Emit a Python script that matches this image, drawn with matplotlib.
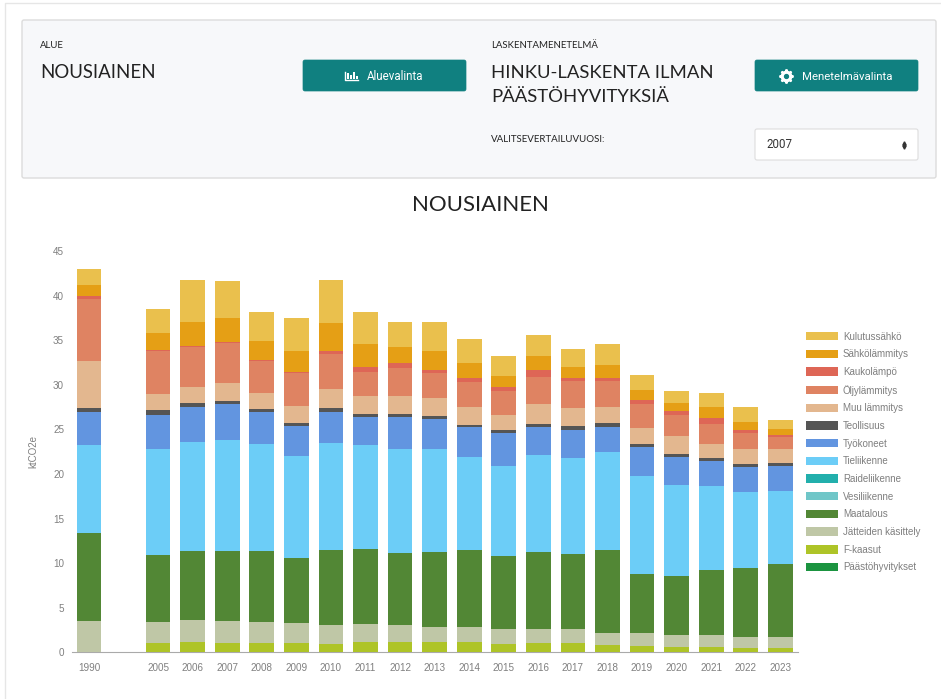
#! /usr/bin/python3

import matplotlib
matplotlib.use("Agg")
import matplotlib.pyplot as plt
from matplotlib.patches import FancyBboxPatch, Rectangle
import numpy as np

vuodet = ["1990", "", "2005", "2006", "2007", "2008", "2009", "2010", "2011", "2012", "2013",
          "2014", "2015", "2016", "2017", "2018", "2019", "2020", "2021", "2022", "2023"]

# arvot luettu kuvasta, toinen sarake on tyhja vali 1990 ja 2005 valissa
kulutussahko = [1.8, 0, 2.75, 4.75, 4.15, 3.3, 3.7, 4.85, 3.6, 2.75, 3.2, 2.7, 2.2, 2.4, 1.95, 2.35, 1.75, 1.35, 1.55, 1.65, 1.0]
sahkolammitys = [1.2, 0, 1.85, 2.65, 2.7, 2.1, 2.3, 3.15, 2.5, 1.85, 2.15, 1.6, 1.3, 1.6, 1.3, 1.45, 1.15, 0.85, 1.2, 0.9, 0.75]
kaukolampo = [0.4, 0, 0.15, 0.1, 0.15, 0.15, 0.15, 0.3, 0.55, 0.5, 0.35, 0.45, 0.45, 0.75, 0.3, 0.3, 0.45, 0.5, 0.7, 0.3, 0.25]
oljylammitys = [6.9, 0, 4.8, 4.5, 4.5, 3.55, 3.65, 3.95, 2.8, 3.1, 2.8, 2.8, 2.65, 3.05, 3.1, 2.95, 2.6, 2.35, 2.25, 1.85, 1.35]
muu_lammitys = [5.3, 0, 1.85, 1.75, 2.05, 1.85, 1.9, 2.15, 1.95, 2.05, 2.0, 2.0, 1.7, 2.25, 1.95, 1.75, 1.85, 2.0, 1.6, 1.7, 1.55]
teollisuus = [0.5, 0, 0.55, 0.45, 0.35, 0.3, 0.35, 0.45, 0.3, 0.3, 0.3, 0.3, 0.4, 0.35, 0.45, 0.45, 0.3, 0.35, 0.3, 0.35, 0.35]
tyokoneet = [3.6, 0, 3.8, 4.0, 4.0, 3.6, 3.35, 3.45, 3.2, 3.65, 3.35, 3.4, 3.6, 3.15, 3.15, 2.8, 3.3, 3.15, 2.8, 2.75, 2.75]
tieliikenne = [9.9, 0, 11.9, 12.15, 12.4, 11.95, 11.45, 12.0, 11.7, 11.65, 11.55, 10.4, 10.15, 10.9, 10.8, 11.05, 10.95, 10.15, 9.45, 8.5, 8.15]
raideliikenne = [0] * 21
vesiliikenne = [0] * 21
maatalous = [9.9, 0, 7.5, 7.75, 7.9, 8.0, 7.35, 8.35, 8.4, 8.05, 8.45, 8.6, 8.15, 8.55, 8.45, 9.25, 6.7, 6.65, 7.25, 7.75, 8.2]
jatteet = [3.5, 0, 2.4, 2.45, 2.45, 2.35, 2.2, 2.15, 2.05, 2.0, 1.75, 1.65, 1.7, 1.6, 1.55, 1.4, 1.4, 1.35, 1.35, 1.25, 1.3]
f_kaasut = [0, 0, 1.0, 1.2, 1.05, 1.05, 1.05, 0.95, 1.1, 1.1, 1.1, 1.2, 0.95, 1.05, 1.0, 0.8, 0.7, 0.6, 0.6, 0.5, 0.45]
hyvitykset = [0] * 21

sarjat = [
    ("Kulutussähkö", kulutussahko, "#EAC04D"),
    ("Sähkölämmitys", sahkolammitys, "#E59F15"),
    ("Kaukolämpö", kaukolampo, "#DE6656"),
    ("Öljylämmitys", oljylammitys, "#DF8362"),
    ("Muu lämmitys", muu_lammitys, "#E3B78F"),
    ("Teollisuus", teollisuus, "#555555"),
    ("Työkoneet", tyokoneet, "#6295E0"),
    ("Tieliikenne", tieliikenne, "#6CCDF7"),
    ("Raideliikenne", raideliikenne, "#22AFAC"),
    ("Vesiliikenne", vesiliikenne, "#6FC6C8"),
    ("Maatalous", maatalous, "#528735"),
    ("Jätteiden käsittely", jatteet, "#BFC7A6"),
    ("F-kaasut", f_kaasut, "#AEC427"),
    ("Päästöhyvitykset", hyvitykset, "#1B9440"),
]

W, H = 941, 699
HARMAA = "#7f7f7f"
TEKSTI = "#222222"
NAPPI = "#108080"
OTSIKKO = "Lato"

fig = plt.figure(figsize=(W / 100, H / 100), dpi=100, facecolor="white")

# sivun yläosa pikselikoordinaateissa
bg = fig.add_axes([0, 0, 1, 1])
bg.set_xlim(0, W)
bg.set_ylim(H, 0)
bg.axis("off")

bg.plot([5, 5, W], [H, 3, 3], color="#e6e6e6", lw=1)
bg.add_patch(FancyBboxPatch((22, 20), 914, 158, boxstyle="round,pad=0,rounding_size=2",
                            fc="#F7F8FA", ec="#dcdcdc", lw=1))
for x in [303, 755]:
    bg.add_patch(FancyBboxPatch((x, 60), 163, 31, boxstyle="round,pad=0,rounding_size=2",
                                fc=NAPPI, ec=NAPPI, lw=0.5))
bg.add_patch(FancyBboxPatch((755, 129), 163, 31, boxstyle="round,pad=0,rounding_size=2",
                            fc="white", ec="#dddddd", lw=0.8))

bg.text(40, 46, "ALUE", fontsize=6.9, family=OTSIKKO, color=TEKSTI, va="center")
bg.text(40, 72.5, "NOUSIAINEN", fontsize=13.4, family=OTSIKKO, color=TEKSTI, va="center")
bg.text(491, 46, "LASKENTAMENETELMÄ", fontsize=6.9, family=OTSIKKO, color=TEKSTI, va="center")
bg.text(491, 72.5, "HINKU-LASKENTA ILMAN", fontsize=13.3, family=OTSIKKO, color=TEKSTI, va="center")
bg.text(491, 96.5, "PÄÄSTÖHYVITYKSIÄ", fontsize=13.3, family=OTSIKKO, color=TEKSTI, va="center")
bg.text(491, 140, "VALITSEVERTAILUVUOSI:", fontsize=7.0, family=OTSIKKO, color=TEKSTI, va="center")
bg.text(480, 205, "NOUSIAINEN", fontsize=16, family=OTSIKKO, color=TEKSTI, va="center", ha="center")

bg.text(367, 76.5, "Aluevalinta", fontsize=8.3, family="Roboto", color="white", va="center")
bg.text(802, 76.5, "Menetelmävalinta", fontsize=8.2, family="Roboto", color="white", va="center")
bg.text(766, 145, "2007", fontsize=8.3, family="Roboto", color="#333333", va="center")

# hammasratas napissa
bg.plot([786], [76], marker=(8, 2, 0), ms=10, mew=1.6, color="white", ls="none")
bg.plot([786], [76], marker="o", ms=7.5, color="white", ls="none")
bg.plot([786], [76], marker="o", ms=2.8, color=NAPPI, ls="none")

# pieni pylväskuvake napissa
for x, y0, h in [(347, 79, 6), (350, 79, 4), (353, 79, 7), (356, 79, 3)]:
    bg.add_patch(Rectangle((x, y0 - h), 2, h, fc="white", ec="none"))
bg.plot([345, 345, 358.5], [72, 80, 80], color="white", lw=1)
bg.plot([904], [143], marker="^", ms=2.4, color="#333333")
bg.plot([904], [147], marker="v", ms=2.4, color="#333333")

# varsinainen kuvaaja
ax_x0, ax_x1 = 71.7, 797.6
ax_y0, ax_y1 = 652.2, 251.2
ax = fig.add_axes([ax_x0 / W, 1 - ax_y0 / H, (ax_x1 - ax_x0) / W, (ax_y0 - ax_y1) / H])
ax.patch.set_alpha(0)

paikat = np.arange(len(vuodet))
pohja = np.zeros(len(vuodet))
palkit = {}
for nimi, arvot, vari in reversed(sarjat):
    palkit[nimi] = ax.bar(paikat, arvot, width=0.715, bottom=pohja, color=vari, label=nimi, zorder=3)
    pohja = pohja + np.array(arvot)

ax.set_xlim(-0.5, 20.5)
ax.set_ylim(0, 45)
ax.set_xticks(paikat)
ax.set_xticklabels(vuodet, fontsize=7.1, family="Liberation Sans", color=HARMAA)
ax.set_yticks(range(0, 46, 5))
ax.tick_params(axis="y", length=0, pad=5.5, labelsize=7.1, labelcolor=HARMAA)
ax.tick_params(axis="x", length=0, pad=8)
for t in ax.get_yticklabels():
    t.set_family("Liberation Sans")
ax.set_yticks([0], minor=True)
ax.tick_params(axis="y", which="minor", length=5, color="#aaaaaa", width=1)
ax.set_ylabel("ktCO2e", fontsize=7, family="Liberation Sans", color=HARMAA, labelpad=6)
ax.yaxis.set_label_coords((38 - ax_x0) / (ax_x1 - ax_x0), 0.5)
for s in ["top", "left", "right"]:
    ax.spines[s].set_visible(False)
ax.spines["bottom"].set_color("#aaaaaa")
ax.spines["bottom"].set_zorder(2)

kahvat = [palkit[s[0]] for s in sarjat]
nimet = [s[0] for s in sarjat]
leg = ax.legend(kahvat, nimet, loc="center left", bbox_to_anchor=(806 / W, 1 - 452 / H),
                bbox_transform=fig.transFigure, frameon=False, borderpad=0, borderaxespad=0,
                labelcolor=HARMAA, handlelength=3.3, handleheight=0.95,
                handletextpad=0.5, labelspacing=0.79, prop={"family": "Liberation Sans", "size": 7.0})

fig.savefig("out.png", dpi=100)
